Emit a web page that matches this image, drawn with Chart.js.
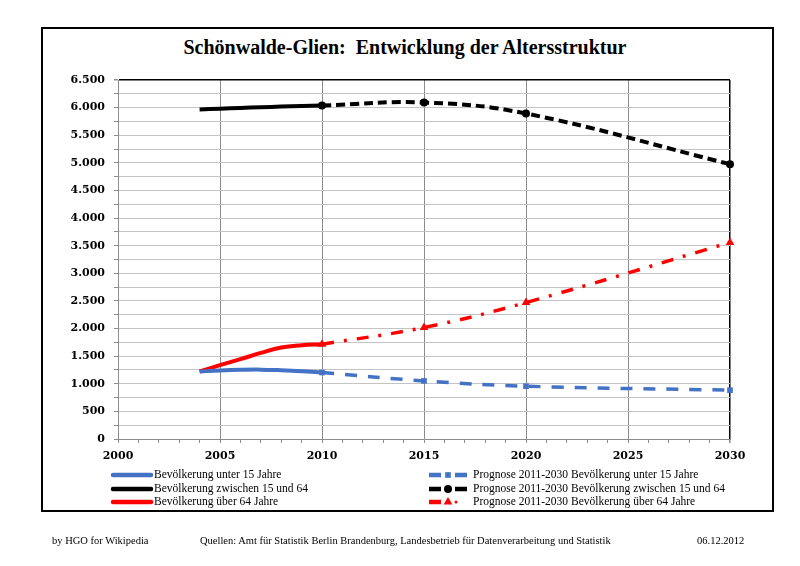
<!DOCTYPE html>
<html>
<head>
<meta charset="utf-8">
<script src="https://cdn.jsdelivr.net/npm/chart.js@4.4.0/dist/chart.umd.min.js"></script>
<style>
    html, body { margin: 0; padding: 0; background: #fff; }
    #wrap { position: relative; width: 800px; height: 566px; overflow: hidden; }
    #frame { position: absolute; left: 41px; top: 27px; width: 733px; height: 485px; border: 2px solid #000; box-sizing: border-box; }
    #chart { position: absolute; left: 0; top: 0; }
    #title { position: absolute; left: 0; width: 810px; top: 36px; text-align: center; font: bold 20px 'Liberation Serif', serif; color: #000; }
    .foot { position: absolute; top: 535px; font: 10.5px 'Liberation Serif', serif; color: #000; white-space: nowrap; }
</style>
</head>
<body>
<div id="wrap">
    <div id="frame"></div>
    <div id="title">Schönwalde-Glien:&nbsp; Entwicklung der Altersstruktur</div>
    <canvas id="chart" width="800" height="566"></canvas>
    <div class="foot" style="left:52px">by HGO for Wikipedia</div>
    <div class="foot" style="left:200px">Quellen: Amt für Statistik Berlin Brandenburg, Landesbetrieb für Datenverarbeitung und Statistik</div>
    <div class="foot" style="left:697px">06.12.2012</div>
</div>
<script>
// Daten
const histYears = [2004, 2005, 2006, 2007, 2008, 2009, 2010];
const histUnter15 = [1222, 1240, 1252, 1256, 1245, 1228, 1204];
const hist15bis64 = [5966, 5980, 5995, 6008, 6018, 6028, 6038];
const histUeber64 = [1222, 1336, 1445, 1559, 1656, 1698, 1716];

const progYears = [2010, 2015, 2020, 2030];
const progUnter15 = [1204, 1052, 956, 884];
const prog15bis64 = [6038, 6093, 5893, 4976];
const progUeber64 = [1716, 2019, 2471, 3558];

const labels = [
    'Bevölkerung unter 15 Jahre',
    'Bevölkerung zwischen 15 und 64',
    'Bevölkerung über 64 Jahre',
    'Prognose 2011-2030 Bevölkerung unter 15 Jahre',
    'Prognose 2011-2030 Bevölkerung zwischen 15 und 64',
    'Prognose 2011-2030 Bevölkerung über 64 Jahre'
];

const BLUE = '#4472C4';
const BLACK = '#000000';
const RED = '#FF0000';

function toPoints(xs, ys) {
    return xs.map((x, i) => ({ x: x, y: ys[i] }));
}

function formatDE(v) {
    return String(v).replace(/\B(?=(\d{3})+(?!\d))/g, '.');
}

// Legende: links Ist-Werte, rechts Prognose
const legendPlugin = {
    id: 'altersLegende',
    afterDraw(chart) {
        const ctx = chart.ctx;
        const cols = [{ x0: 113, x1: 151, tx: 154 }, { x0: 429, x1: 467, tx: 473 }];
        const rows = [475, 489, 502];
        ctx.save();
        chart.data.datasets.forEach((ds, i) => {
            const c = cols[Math.floor(i / 3)];
            const y = rows[i % 3];
            ctx.strokeStyle = ds.borderColor;
            ctx.lineWidth = 4.5;
            ctx.lineCap = 'butt';
            if (ds.pointRadius > 0) {
                ctx.setLineDash([]);
                ctx.beginPath();
                ctx.moveTo(c.x0, y); ctx.lineTo(c.x0 + 12, y);
                if (ds.pointStyle === 'triangle') {
                    ctx.stroke();
                    ctx.beginPath();
                    ctx.arc(c.x0 + 27, y, 1.5, 0, Math.PI * 2);
                    ctx.fillStyle = ds.borderColor;
                    ctx.fill();
                } else {
                    ctx.moveTo(c.x1 - 12, y); ctx.lineTo(c.x1, y);
                    ctx.stroke();
                }
                ctx.fillStyle = ds.borderColor;
                Chart.helpers.drawPoint(ctx, {
                    pointStyle: ds.pointStyle, radius: ds.pointRadius, rotation: 0, borderWidth: 0
                }, ds.pointStyle === 'triangle' ? c.x0 + 19 : (c.x0 + c.x1) / 2, y);
            } else {
                ctx.setLineDash([]);
                ctx.lineCap = 'round';
                ctx.beginPath();
                ctx.moveTo(c.x0, y); ctx.lineTo(c.x1, y);
                ctx.stroke();
            }
            ctx.fillStyle = '#000';
            ctx.font = "11.5px 'Liberation Serif', serif";
            ctx.textBaseline = 'middle';
            ctx.textAlign = 'left';
            ctx.fillText(ds.label, c.tx, y);
        });
        ctx.restore();
    }
};

const histStyle = { borderWidth: 4, pointRadius: 0, tension: 0.4, fill: false, clip: false };

new Chart(document.getElementById('chart'), {
    type: 'line',
    data: {
        datasets: [
            Object.assign({ label: labels[0], data: toPoints(histYears, histUnter15), borderColor: BLUE }, histStyle),
            Object.assign({ label: labels[1], data: toPoints(histYears, hist15bis64), borderColor: BLACK }, histStyle),
            Object.assign({ label: labels[2], data: toPoints(histYears, histUeber64), borderColor: RED }, histStyle),
            {
                label: labels[3], data: toPoints(progYears, progUnter15),
                borderColor: BLUE, backgroundColor: BLUE, borderWidth: 3.5, borderDash: [12, 11],
                pointStyle: 'rect', pointRadius: 4, pointBorderWidth: 0, tension: 0.4, clip: false
            },
            {
                label: labels[4], data: toPoints(progYears, prog15bis64),
                borderColor: BLACK, backgroundColor: BLACK, borderWidth: 4, borderDash: [9, 5],
                pointStyle: 'circle', pointRadius: 4, pointBorderWidth: 0, tension: 0.4, clip: false
            },
            {
                label: labels[5], data: toPoints(progYears, progUeber64),
                borderColor: RED, backgroundColor: RED, borderWidth: 3.5, borderDash: [12, 10, 3, 10],
                pointStyle: 'triangle', pointRadius: 5, pointBorderWidth: 0, tension: 0.4, clip: false
            }
        ]
    },
    options: {
        responsive: false,
        animation: false,
        layout: { padding: { left: 0, right: 70, top: 80, bottom: 0 } },
        plugins: {
            legend: { display: false },
            title: { display: false },
            tooltip: { enabled: false }
        },
        scales: {
            x: {
                type: 'linear',
                min: 2000,
                max: 2030,
                afterFit: (scale) => { scale.height = 127; },
                border: { color: '#8c8c8c', width: 1 },
                grid: {
                    color: (c) => c.tick && c.tick.value === 2030 ? '#000' : (c.tick && c.tick.value % 5 === 0 ? '#8c8c8c' : 'rgba(0,0,0,0)'),
                    lineWidth: (c) => c.tick && c.tick.value === 2030 ? 1.5 : 1,
                    tickColor: '#8c8c8c',
                    tickLength: 4
                },
                ticks: {
                    stepSize: 1,
                    autoSkip: false,
                    maxRotation: 0,
                    padding: 7,
                    color: '#000',
                    font: { family: "'DejaVu Serif', serif", size: 11, weight: 'bold' },
                    callback: (v) => v % 5 === 0 ? String(v) : ''
                }
            },
            y: {
                min: 0,
                max: 6500,
                afterFit: (scale) => { scale.width = 118; },
                border: { color: '#8c8c8c', width: 1 },
                grid: {
                    color: (c) => c.tick && c.tick.value === 6500 ? '#000' : '#c4c4c4',
                    lineWidth: (c) => c.tick && c.tick.value === 6500 ? 1.5 : 1,
                    tickColor: '#8c8c8c',
                    tickLength: 4
                },
                ticks: {
                    stepSize: 250,
                    autoSkip: false,
                    padding: 9,
                    color: '#000',
                    font: { family: "'DejaVu Serif', serif", size: 11, weight: 'bold' },
                    callback: (v) => v % 500 === 0 ? formatDE(v) : ''
                }
            }
        }
    },
    plugins: [legendPlugin]
});
</script>
</body>
</html>
